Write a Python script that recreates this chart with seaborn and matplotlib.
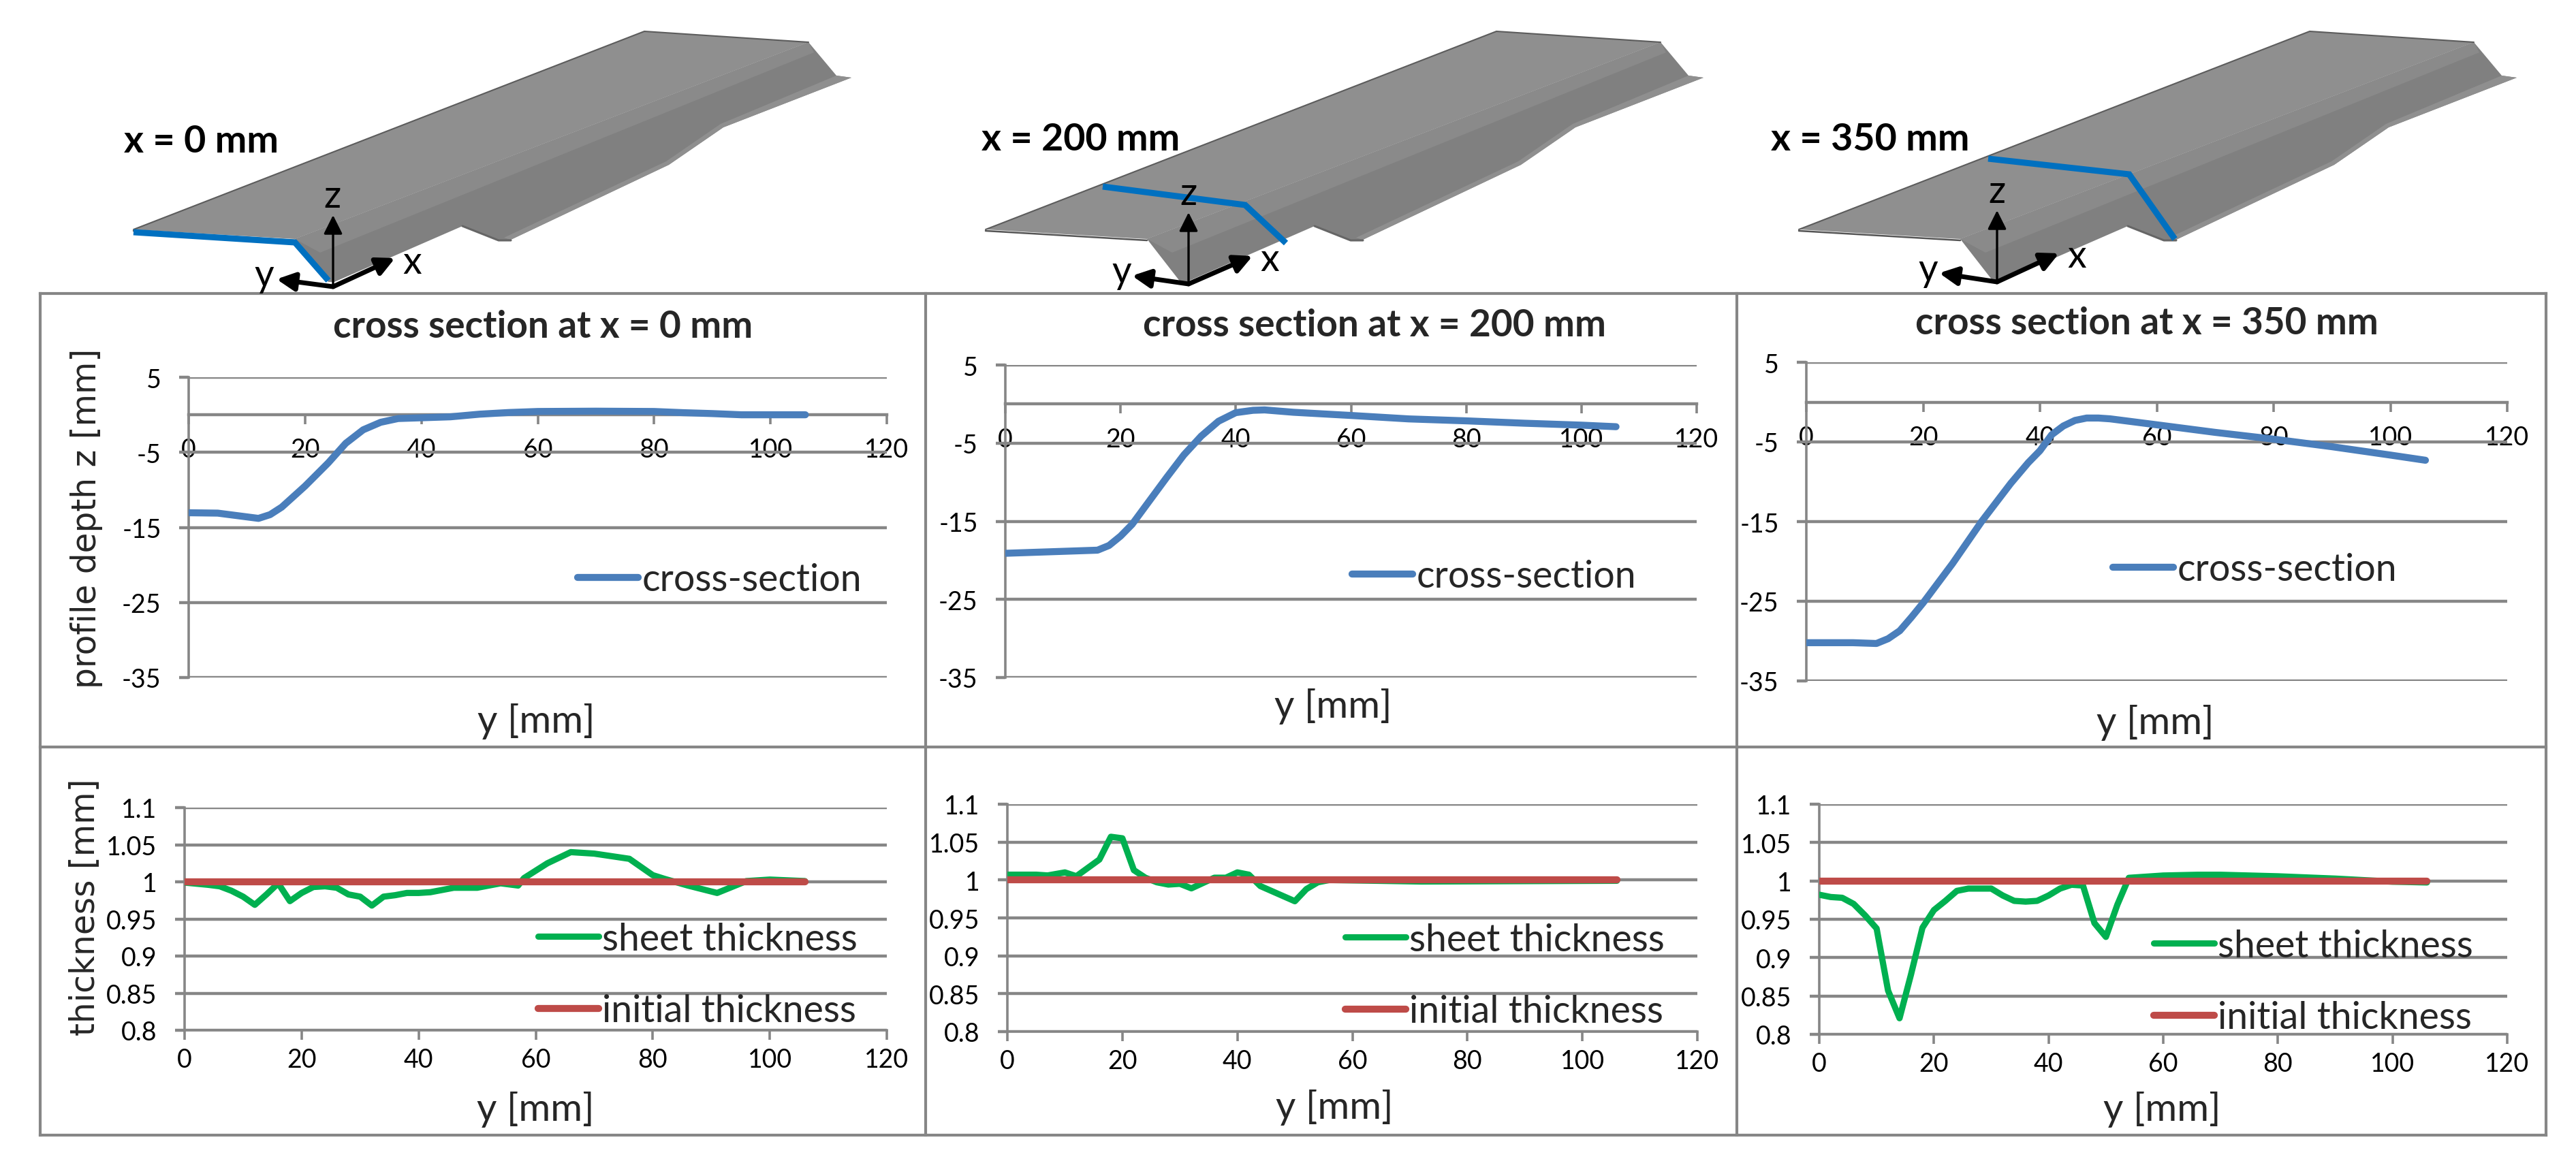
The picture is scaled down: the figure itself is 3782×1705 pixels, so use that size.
import numpy as np
import pandas as pd
import seaborn as sns
import matplotlib.pyplot as plt
from matplotlib.patches import Polygon

# cross section profiles
y_cs_0 = [0, 5, 12, 14, 16, 20, 24, 27, 30, 33, 36, 40, 45, 50, 55, 60, 70, 80, 85, 90, 95, 100, 106]
z_cs_0 = [-13.05, -13.1, -13.8, -13.3, -12.3, -9.5, -6.4, -3.8, -2.0, -1.0, -0.5, -0.4, -0.27, 0.08, 0.3, 0.44, 0.48, 0.44, 0.28, 0.16, 0, 0, 0]

y_cs_200 = [0, 8, 16, 18, 20, 22, 25, 28, 31, 34, 37, 40, 43, 45, 50, 60, 70, 80, 90, 100, 106]
z_cs_200 = [-19.1, -18.9, -18.7, -18.1, -16.9, -15.4, -12.4, -9.4, -6.5, -4.1, -2.2, -1.1, -0.8, -0.75, -1.05, -1.46, -1.9, -2.15, -2.45, -2.7, -2.9]

y_cs_350 = [0, 8, 12, 14, 16, 18, 20, 25, 30, 35, 38, 40, 42, 44, 46, 48, 50, 52, 60, 70, 80, 90, 100, 106]
z_cs_350 = [-30.2, -30.2, -30.3, -29.7, -28.7, -27, -25.2, -20.3, -15, -10.2, -7.6, -6.1, -4.1, -3, -2.3, -2, -2, -2.1, -2.85, -3.8, -4.65, -5.6, -6.65, -7.3]

# sheet thickness along the section
y_th_0 = [0, 4, 6, 8, 10, 12, 14, 16, 18, 20, 22, 24, 26, 28, 30, 32, 34, 36, 38, 40, 42, 46, 50, 54, 57, 58, 62, 66, 70, 76, 80, 82, 86, 91, 96, 100, 106]
t_th_0 = [0.999, 0.996, 0.994, 0.988, 0.98, 0.969, 0.983, 0.998, 0.974, 0.985, 0.993, 0.994, 0.992, 0.983, 0.98, 0.968, 0.98, 0.982, 0.985, 0.985, 0.986, 0.992, 0.992, 0.998, 0.995, 1.005, 1.025, 1.04, 1.038, 1.031, 1.009, 1.004, 0.995, 0.985, 1.001, 1.003, 1.001]

y_th_200 = [0, 5, 7, 10, 12, 16, 18, 20, 22, 24, 26, 28, 30, 32, 36, 38, 40, 42, 44, 50, 52, 54, 56, 72, 106]
t_th_200 = [1.007, 1.007, 1.006, 1.01, 1.005, 1.027, 1.057, 1.055, 1.013, 1.003, 0.997, 0.994, 0.995, 0.989, 1.003, 1.003, 1.01, 1.007, 0.992, 0.972, 0.988, 0.997, 1.0, 0.998, 0.999]

y_th_350 = [0, 2, 4, 6, 8, 10, 12, 14, 16, 18, 20, 22, 24, 26, 30, 32, 34, 36, 38, 40, 42, 44, 46, 48, 50, 52, 54, 60, 66, 70, 80, 90, 100, 106]
t_th_350 = [0.982, 0.979, 0.978, 0.97, 0.955, 0.938, 0.857, 0.821, 0.878, 0.939, 0.962, 0.974, 0.987, 0.99, 0.99, 0.981, 0.974, 0.973, 0.974, 0.981, 0.99, 0.995, 0.994, 0.945, 0.927, 0.969, 1.004, 1.007, 1.008, 1.008, 1.006, 1.003, 0.999, 0.998]

y_initial = [0, 106]
t_initial = [1, 1]

x_ticks = [0, 20, 40, 60, 80, 100, 120]
z_ticks = [5, -5, -15, -25, -35]
t_ticks = [1.1, 1.05, 1, 0.95, 0.9, 0.85, 0.8]
t_ticklabels = ['1.1', '1.05', '1', '0.95', '0.9', '0.85', '0.8']

sections = ['x = 0 mm', 'x = 200 mm', 'x = 350 mm']

W, H = 3782, 1706
GRID = '#868686'
BLUE = '#4a7ebb'
GREEN = '#00b050'
RED = '#be4b48'
TICK_SIZE = 27
LABEL_SIZE = 41
LEG_SIZE = 40
GRID_LW = 3.2

sns.set_theme(style='white')
plt.rcParams['font.family'] = ['Lato', 'DejaVu Sans']

fig = plt.figure(figsize=(W / 100, H / 100), dpi=100)

# background layer in picture pixels, for the frame and the 3d renderings
bg = fig.add_axes([0, 0, 1, 1], zorder=-1)
bg.set_xlim(0, W)
bg.set_ylim(H, 0)
bg.axis('off')


def px_axes(left, right, top, bottom):
    ax = fig.add_axes([left / W, 1 - bottom / H, (right - left) / W, (bottom - top) / H])
    ax.patch.set_visible(False)
    return ax


def fx(x):
    return x / W


def fy(y):
    return 1 - y / H


def style_axes(ax, yticks, yticklabels, ylim):
    ax.set_xlim(0, 120)
    ax.set_ylim(*ylim)
    ax.set_xticks(x_ticks)
    ax.set_xticklabels([str(v) for v in x_ticks])
    ax.set_yticks(yticks)
    ax.set_yticklabels(yticklabels)
    ax.grid(axis='y', color=GRID, lw=GRID_LW)
    ax.set_axisbelow(True)
    for side in ['top', 'right']:
        ax.spines[side].set_visible(False)
    for side in ['left', 'bottom']:
        ax.spines[side].set_color(GRID)
        ax.spines[side].set_linewidth(2.6)
    ax.tick_params(axis='y', length=10, width=GRID_LW, color=GRID, pad=19, labelsize=TICK_SIZE, labelcolor='black', left=True)
    ax.tick_params(axis='x', length=10, width=2.6, color=GRID, pad=8, labelsize=TICK_SIZE, labelcolor='black', bottom=True)


def add_legend(ax, x, y, spacing=0.0):
    ax.legend(loc='center left', bbox_to_anchor=(fx(x), fy(y)), bbox_transform=fig.transFigure,
              frameon=False, fontsize=LEG_SIZE, borderpad=0, borderaxespad=0,
              handlelength=1.6, handletextpad=0.1, labelspacing=spacing)


# cross section row
cs_rects = [(277, 1302, 555, 996), (1476, 2491, 537, 996), (2652, 3681, 533, 1001)]
cs_data = [(y_cs_0, z_cs_0), (y_cs_200, z_cs_200), (y_cs_350, z_cs_350)]
cs_titles = [(797, 488), (2018, 486), (3152, 483)]
cs_xlabels = [(787, 1060), (1957, 1038), (3164, 1062)]
cs_legends = [(848, 853), (1985, 848), (3102, 838)]

for i in range(3):
    ax = px_axes(*cs_rects[i])
    df = pd.DataFrame({'y': cs_data[i][0], 'z': cs_data[i][1]})
    sns.lineplot(data=df, x='y', y='z', ax=ax, color=BLUE, lw=7.4, zorder=3, label='cross-section')
    style_axes(ax, z_ticks, [str(v) for v in z_ticks], (-35, 5))
    ax.spines['bottom'].set_position(('data', 0))
    ax.spines['bottom'].set_linewidth(GRID_LW)
    ax.tick_params(axis='x', pad=14)
    ax.set_ylabel('')
    ax.set_xlabel('y [mm]', fontsize=LABEL_SIZE, va='center')
    ax.xaxis.set_label_coords(fx(cs_xlabels[i][0]), fy(cs_xlabels[i][1]), transform=fig.transFigure)
    left, right, top, bottom = cs_rects[i]
    ax.set_title('cross section at ' + sections[i], fontsize=39.5, fontweight='bold', va='center',
                 x=(cs_titles[i][0] - left) / (right - left), y=(bottom - cs_titles[i][1]) / (bottom - top))
    add_legend(ax, *cs_legends[i])

# thickness row
th_rects = [(271, 1302, 1187, 1514), (1479, 2492, 1182, 1516), (2671, 3681, 1182, 1520)]
th_data = [(y_th_0, t_th_0), (y_th_200, t_th_200), (y_th_350, t_th_350)]
th_xlabels = [(786, 1630), (1959, 1627), (3174, 1630)]
th_legends = [(790, 1433), (1975, 1434), (3162, 1443)]

for i in range(3):
    ax = px_axes(*th_rects[i])
    sns.lineplot(x=th_data[i][0], y=th_data[i][1], ax=ax, color=GREEN, lw=6.6, zorder=3, label='sheet thickness')
    sns.lineplot(x=y_initial, y=t_initial, ax=ax, color=RED, lw=7.4, zorder=4, label='initial thickness')
    style_axes(ax, t_ticks, t_ticklabels, (0.8, 1.1))
    ax.set_xlabel('y [mm]', fontsize=LABEL_SIZE, va='center')
    ax.xaxis.set_label_coords(fx(th_xlabels[i][0]), fy(th_xlabels[i][1]), transform=fig.transFigure)
    add_legend(ax, *th_legends[i], spacing=0.98)

fig.text(fx(127), fy(761), 'profile depth z [mm]', rotation=90, ha='center', va='center',
         fontsize=35, family='DejaVu Sans')
fig.text(fx(125), fy(1332), 'thickness [mm]', rotation=90, ha='center', va='center',
         fontsize=35, family='DejaVu Sans')

# frame around the charts
for yy in [432, 1098, 1668]:
    bg.plot([59, 3738], [yy, yy], color=GRID, lw=3, solid_capstyle='projecting')
for xx in [59, 1359, 2550, 3738]:
    bg.plot([xx, xx], [432, 1668], color=GRID, lw=3, solid_capstyle='projecting')

# 3d sheet outline, in pixels of the left rendering
top_face = [(196, 338), (946, 47), (1187, 63), (433, 352)]
side_face = [(433, 352), (1187, 63), (1228, 112), (1250, 115), (1062, 188), (982, 243), (750, 353),
             (732, 354), (679, 333), (491, 415), (482, 415)]
flange = [(1250, 115), (1228, 112), (1058, 183), (978, 238), (740, 350), (750, 353), (982, 243), (1062, 188)]
ridge_band = [(433, 352), (1187, 63), (1195, 78), (470, 372)]
shifts = [0, 1251, 2445]
cuts = [[(196, 342), (433, 357), (482, 413)],
        [(1619, 275), (1828, 302), (1888, 358)],
        [(2919, 234), (3126, 257), (3193, 352)]]
origins = [(489, 422), (1745, 418), (2932, 415)]
z_ends = [(489, 317), (1745, 313), (2932, 310)]
y_ends = [(406, 411), (1662, 406), (2847, 402)]
x_ends = [(580, 380), (1839, 377), (3023, 373)]
z_text = [(488, 289), (1745, 285), (2932, 282)]
y_text = [(388, 405), (1647, 400), (2831, 397)]
x_text = [(605, 386), (1864, 382), (3049, 377)]
section_text = [(296, 208), (1587, 205), (2746, 205)]


def shifted(points, dx):
    return [(px + dx, py) for px, py in points]


for i, dx in enumerate(shifts):
    bg.add_patch(Polygon(shifted(side_face, dx), closed=True, fc='#808080', ec='none'))
    bg.add_patch(Polygon(shifted(ridge_band, dx), closed=True, fc='#8a8a8a', ec='none'))
    bg.add_patch(Polygon(shifted(flange, dx), closed=True, fc='#8f8f8f', ec='none'))
    bg.add_patch(Polygon(shifted(top_face, dx), closed=True, fc='#8f8f8f', ec='none'))
    edge = shifted([(196, 338), (946, 47), (1187, 63)], dx)
    bg.plot(*zip(*edge), color='#5c5c5c', lw=1.5)
    bg.plot(*zip(*shifted([(196, 340), (433, 354)], dx)), color='#555555', lw=1.8)
    bg.plot(*zip(*shifted([(679, 333), (732, 354), (750, 354)], dx)), color='#666666', lw=2.2)

    bg.plot(*zip(*cuts[i]), color='#0070c0', lw=6.5, solid_joinstyle='miter', solid_capstyle='butt')

    for end, lw, scale in [(z_ends[i], 2.4, 42), (y_ends[i], 5, 40), (x_ends[i], 5, 40)]:
        bg.annotate('', xy=end, xytext=origins[i],
                    arrowprops=dict(arrowstyle='-|>', color='black', lw=lw, mutation_scale=scale,
                                    shrinkA=0, shrinkB=0))
    bg.text(*z_text[i], 'z', fontsize=40, ha='center', va='center', color='black')
    bg.text(*y_text[i], 'y', fontsize=40, ha='center', va='center', color='black')
    bg.text(*x_text[i], 'x', fontsize=40, ha='center', va='center', color='black')
    bg.text(*section_text[i], sections[i], fontsize=40, fontweight='bold', ha='center', va='center', color='black')

fig.savefig('out.png', dpi=100, facecolor='white')
